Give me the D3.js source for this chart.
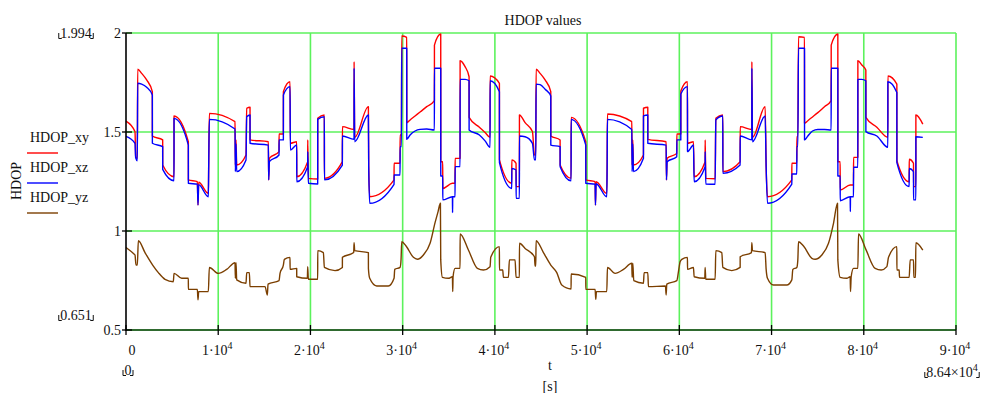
<!DOCTYPE html>
<html><head><meta charset="utf-8">
<script src="https://cdn.jsdelivr.net/npm/d3@7"></script>
<style>body{margin:0;background:#fff}svg{display:block}text{font-family:"Liberation Serif","Times New Roman",serif;fill:#111}</style>
</head><body>
<svg id="c" width="985" height="393"></svg>
<script>
const title = "HDOP values";
const seriesNames = ["HDOP_xy", "HDOP_xz", "HDOP_yz"];
const xTicks = [0, 10000, 20000, 30000, 40000, 50000, 60000, 70000, 80000, 90000];
const yTicks = [0.5, 1, 1.5, 2];
const yTickLabels = ["0.5", "1", "1.5", "2"];
const xMin = 0, xMax = 86400, yMinMark = 0.651, yMaxMark = 1.994;

const tXY = [0,976,1050,1229,1265,1699,2241,2856,2860,3977,3980,5206,5210,6760,6764,7736,7808,7881,8929,8965,9038,11821,11857,11930,12002,13014,13086,13448,13452,15437,15473,15546,16594,16598,17064,17068,17787,17823,18510,18514,19703,19707,19775,20787,20791,21510,21514,23462,23466,24728,24732,24800,26282,26318,26427,29067,29071,29718,29722,29862,29898,30441,30445,30802,31344,31887,32610,33441,33445,34128,34132,34345,34349,35393,35411,35429,35682,35686,36225,36229,36767,37201,37205,38321,38936,39478,39482,40490,40494,41828,41832,42298,42302,42659,42663,43276,44071,44288,44433,44469,44903,45445,46060,46064,47072,47076,48265,48269,49855,49859,50868,50904,50976,52133,52169,52205,54844,54880,54952,55025,56109,56113,56579,56583,58569,58605,58677,59726,59730,60159,60163,60882,60886,61533,61605,62798,62802,62870,63883,63955,64714,64718,66594,66598,67859,67863,67932,69305,69414,69558,72197,72201,72740,72744,72849,72922,73572,73576,73934,74440,75018,75741,76464,76468,77187,77191,77440,77444,78525,78543,78561,78886,78890,79356,79360,79790,80224,80228,81417,82610,82614,83586,83590,84923,84927,85393,85397,85647,85651,86400];
const hdopXY = [1.555,1.502,1.375,1.367,1.817,1.796,1.763,1.704,1.480,1.460,1.333,1.274,1.581,1.451,1.258,1.249,1.131,1.246,1.190,1.325,1.594,1.552,1.333,1.460,1.333,1.384,1.620,1.625,1.460,1.451,1.258,1.367,1.401,1.490,1.490,1.704,1.754,1.443,1.451,1.274,1.350,1.460,1.266,1.263,1.569,1.586,1.266,1.350,1.527,1.513,1.855,1.473,1.628,1.325,1.173,1.258,1.342,1.342,1.485,1.485,1.985,1.978,1.547,1.561,1.581,1.601,1.628,1.658,1.939,1.995,1.350,1.350,1.215,1.241,1.241,1.241,1.241,1.367,1.367,1.860,1.830,1.779,1.574,1.524,1.498,1.473,1.783,1.746,1.359,1.241,1.359,1.342,1.224,1.224,1.586,1.547,1.502,1.384,1.384,1.817,1.796,1.763,1.704,1.480,1.460,1.333,1.266,1.574,1.451,1.258,1.249,1.131,1.249,1.190,1.325,1.591,1.552,1.333,1.460,1.333,1.384,1.620,1.625,1.463,1.451,1.258,1.367,1.392,1.490,1.490,1.707,1.754,1.443,1.451,1.274,1.350,1.460,1.266,1.264,1.569,1.586,1.300,1.350,1.527,1.513,1.855,1.473,1.628,1.325,1.173,1.258,1.342,1.342,1.476,1.476,1.981,1.978,1.544,1.557,1.576,1.598,1.628,1.658,1.939,1.995,1.350,1.350,1.207,1.232,1.232,1.232,1.232,1.372,1.372,1.860,1.838,1.813,1.574,1.524,1.473,1.783,1.742,1.355,1.249,1.362,1.342,1.224,1.224,1.586,1.540];
const hdopXZ = [1.478,1.443,1.370,1.355,1.746,1.742,1.726,1.687,1.443,1.426,1.311,1.254,1.569,1.434,1.241,1.237,1.131,1.234,1.173,1.311,1.564,1.515,1.300,1.440,1.300,1.359,1.577,1.586,1.443,1.434,1.258,1.350,1.384,1.460,1.460,1.687,1.729,1.409,1.434,1.249,1.325,1.401,1.241,1.237,1.564,1.577,1.258,1.333,1.480,1.463,1.822,1.451,1.586,1.325,1.140,1.236,1.283,1.283,1.426,1.426,1.923,1.923,1.463,1.485,1.505,1.513,1.515,1.510,1.822,1.822,1.278,1.278,1.157,1.173,1.093,1.173,1.173,1.325,1.325,1.766,1.766,1.759,1.510,1.485,1.455,1.423,1.759,1.704,1.345,1.215,1.316,1.308,1.165,1.165,1.480,1.476,1.443,1.359,1.359,1.742,1.739,1.716,1.682,1.434,1.426,1.325,1.254,1.564,1.434,1.241,1.237,1.131,1.239,1.173,1.311,1.564,1.513,1.300,1.440,1.300,1.367,1.581,1.586,1.443,1.434,1.258,1.350,1.375,1.460,1.460,1.692,1.729,1.401,1.434,1.249,1.325,1.401,1.237,1.236,1.561,1.581,1.291,1.333,1.480,1.460,1.822,1.451,1.581,1.325,1.140,1.237,1.288,1.288,1.426,1.426,1.923,1.923,1.460,1.480,1.505,1.513,1.513,1.510,1.822,1.822,1.278,1.278,1.153,1.173,1.098,1.173,1.173,1.322,1.322,1.766,1.766,1.759,1.502,1.480,1.423,1.754,1.699,1.345,1.224,1.316,1.300,1.157,1.157,1.476,1.473];

const tYZ = [0,868,976,1085,1229,1338,2061,2892,3507,4230,5133,5206,6037,6760,6764,7736,7808,7881,8929,9038,10014,10917,11821,11857,11930,12002,13014,13086,13376,13448,15076,15329,15401,16594,16702,17064,17172,17787,17791,18510,18514,19667,19703,19775,20787,20791,21402,21510,22667,23462,23466,24691,24728,24800,26282,26286,26427,27186,28451,29067,29139,29718,29826,29898,30368,31164,31597,32248,32971,33513,33839,34092,34128,34309,34960,35393,35429,35465,35682,36225,36229,37128,38104,38755,39478,39550,40490,40494,40852,40924,41466,41575,42189,42298,42659,42663,43276,44288,44361,44433,44469,45264,46060,46710,47253,48265,48269,49855,49859,50868,50940,51012,52133,52205,53036,53940,54844,54880,54952,55061,56109,56181,56579,56651,58496,58569,58641,59726,59906,60087,60269,60882,60886,61533,61605,62762,62798,62870,63883,63955,64606,64714,65690,66594,66598,67823,67859,67932,69305,69414,69558,70209,71655,72197,72306,72740,72849,72922,73464,74368,74729,75452,76175,76717,77151,77187,77440,78163,78525,78561,78633,78886,79356,79429,80224,81236,81887,82502,82683,83586,83590,83839,83875,84923,85031,85393,85429,85610,85647,86400];
const hdopYZ = [0.917,0.884,0.879,0.828,0.828,0.951,0.891,0.828,0.790,0.756,0.744,0.786,0.761,0.761,0.705,0.705,0.652,0.694,0.694,0.816,0.786,0.806,0.840,0.761,0.840,0.753,0.736,0.790,0.790,0.719,0.719,0.677,0.732,0.749,0.786,0.828,0.857,0.867,0.806,0.811,0.769,0.761,0.820,0.756,0.756,0.901,0.891,0.816,0.800,0.816,0.867,0.891,0.941,0.901,0.891,0.811,0.761,0.722,0.722,0.761,0.806,0.816,0.857,0.946,0.924,0.867,0.857,0.879,0.938,1.042,1.098,1.140,0.854,0.766,0.761,0.769,0.694,0.769,0.811,0.811,0.985,0.904,0.811,0.803,0.820,0.867,0.921,0.803,0.803,0.766,0.766,0.854,0.854,0.766,0.766,0.938,0.912,0.870,0.823,0.823,0.951,0.891,0.828,0.790,0.727,0.707,0.783,0.766,0.705,0.705,0.655,0.694,0.694,0.816,0.786,0.806,0.837,0.766,0.837,0.749,0.736,0.790,0.790,0.719,0.722,0.677,0.732,0.749,0.795,0.845,0.857,0.867,0.806,0.816,0.769,0.761,0.816,0.756,0.756,0.901,0.891,0.816,0.800,0.816,0.870,0.891,0.941,0.901,0.891,0.806,0.761,0.727,0.727,0.753,0.806,0.816,0.854,0.946,0.924,0.862,0.857,0.879,0.938,1.039,1.140,0.854,0.766,0.761,0.769,0.694,0.769,0.811,0.811,0.985,0.907,0.811,0.803,0.820,0.867,0.921,0.803,0.803,0.766,0.766,0.854,0.854,0.766,0.766,0.941,0.904];

const colors = ["#ff0000", "#0000ff", "#7b3f00"];

const svg = d3.select("#c");
const L = 126, R = 956, T = 33, B = 330;
const x = d3.scaleLinear().domain([0, 90000]).range([L, R]);
const y = d3.scaleLinear().domain([0.5, 2]).range([B, T]);

// grid
const grid = svg.append("g").attr("stroke", "#5cf25c").attr("stroke-width", 1.6);
xTicks.slice(1).forEach(v => grid.append("line").attr("x1", x(v)).attr("x2", x(v)).attr("y1", T).attr("y2", B));
yTicks.slice(1).forEach(v => grid.append("line").attr("x1", L).attr("x2", R).attr("y1", y(v)).attr("y2", y(v)));

// series
const line = d3.line().x(d => x(d[0])).y(d => y(d[1])).curve(d3.curveMonotoneX);
const data = [d3.zip(tXY, hdopXY), d3.zip(tXY, hdopXZ), d3.zip(tYZ, hdopYZ)];
data.forEach((d, i) => svg.append("path").attr("d", line(d)).attr("fill", "none")
  .attr("stroke", colors[i]).attr("stroke-width", 1.4).attr("stroke-linejoin", "round"));

// axes lines
svg.append("line").attr("x1", L).attr("x2", R).attr("y1", B).attr("y2", B).attr("stroke", "#2f6a2f").attr("stroke-width", 2.2);
svg.append("line").attr("x1", L).attr("x2", L).attr("y1", T).attr("y2", B + 1).attr("stroke", "#000").attr("stroke-width", 1.6);

// x ticks
xTicks.forEach(v => svg.append("line").attr("x1", x(v)).attr("x2", x(v)).attr("y1", B - 5).attr("y2", B + 5).attr("stroke", "#000").attr("stroke-width", 1.3));
xTicks.forEach(v => {
  const t = svg.append("text").attr("x", v === 0 ? x(v) + 6 : x(v) - 1).attr("y", 355).attr("text-anchor", "middle").attr("font-size", 14);
  if (v === 0) { t.text("0"); return; }
  t.append("tspan").text((v / 10000) + "\u00b710");
  t.append("tspan").attr("dy", -6).attr("font-size", 10).text("4");
});
// y ticks
yTicks.forEach((v, i) => {
  svg.append("line").attr("x1", L - 4).attr("x2", L + 6).attr("y1", y(v)).attr("y2", y(v)).attr("stroke", "#000").attr("stroke-width", 1.3);
  svg.append("text").attr("x", L - 5).attr("y", y(v) + 5).attr("text-anchor", "end").attr("font-size", 14).text(yTickLabels[i]);
});

// range markers
function bracketed(xc, yb, anchor, build) {
  const t = svg.append("text").attr("x", xc).attr("y", yb).attr("text-anchor", anchor).attr("font-size", 14);
  build(t);
  const bb = t.node().getBBox();
  const g = svg.append("g").attr("stroke", "#111").attr("stroke-width", 1).attr("fill", "none");
  g.append("path").attr("d", `M${bb.x - 1.5},${yb - 5}V${yb + 0.5}H${bb.x + 1.5}`);
  g.append("path").attr("d", `M${bb.x + bb.width + 1.5},${yb - 5}V${yb + 0.5}H${bb.x + bb.width - 1.5}`);
}
bracketed(76, 38, "middle", t => t.text(yMaxMark.toFixed(3)));
bracketed(76, 320, "middle", t => t.text(yMinMark.toFixed(3)));
bracketed(128, 375, "middle", t => t.text(String(xMin)));
bracketed(952, 377, "middle", t => { t.append("tspan").text((xMax / 10000).toFixed(2) + "\u00d710"); t.append("tspan").attr("dy", -6).attr("font-size", 10).text("4"); });

// titles
svg.append("text").attr("x", 543).attr("y", 25).attr("text-anchor", "middle").attr("font-size", 14).text(title);
svg.append("text").attr("x", 550).attr("y", 370).attr("text-anchor", "middle").attr("font-size", 14).text("t");
svg.append("text").attr("x", 550).attr("y", 391).attr("text-anchor", "middle").attr("font-size", 14).text("[s]");
svg.append("text").attr("transform", "translate(21,181) rotate(-90)").attr("text-anchor", "middle").attr("font-size", 14).text("HDOP");

// legend
const legY = [142, 172, 202];
seriesNames.forEach((n, i) => {
  svg.append("text").attr("x", 30).attr("y", legY[i]).attr("font-size", 14).text(n);
  svg.append("line").attr("x1", 27).attr("x2", 58).attr("y1", legY[i] + 11).attr("y2", legY[i] + 11).attr("stroke", colors[i]).attr("stroke-width", 1.4);
});
</script>
</body></html>
